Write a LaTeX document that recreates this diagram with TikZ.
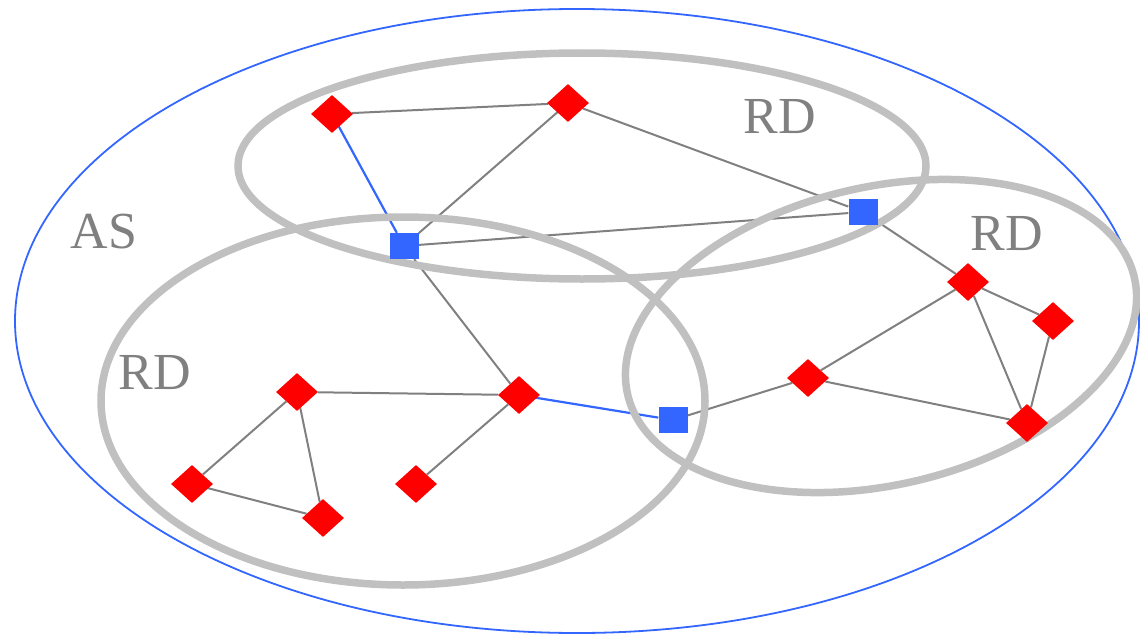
\documentclass[tikz,border=0pt]{standalone}
\usepackage{fontspec}
\setmainfont{Liberation Serif}
\usetikzlibrary{shapes.geometric,backgrounds}
\definecolor{rdgray}{HTML}{C0C0C0}
\definecolor{edgegray}{HTML}{808080}
\definecolor{asblue}{HTML}{3366FF}
\definecolor{nodered}{HTML}{FF0000}
\begin{document}
\begin{tikzpicture}[x=1pt,y=-1pt,
  router/.style={diamond, fill=nodered, draw=none, minimum width=42pt, minimum height=38pt, inner sep=0pt},
  border/.style={rectangle, fill=asblue, draw=none, minimum width=29pt, minimum height=26pt, inner sep=0pt},
  link/.style={draw=edgegray, line width=2pt},
  blink/.style={draw=asblue, line width=2.2pt},
  rd/.style={draw=rdgray, line width=7.5pt},
  asline/.style={draw=asblue, line width=1.8pt},
  lbl/.style={text=edgegray, font=\fontsize{52}{54}\selectfont, inner sep=0pt}
]
\useasboundingbox (0,0) rectangle (1140,634);

% nodes
\node[router] (n1) at (332,114) {};
\node[router] (n2) at (568,103) {};
\node[router] (n3) at (968,282) {};
\node[router] (n4) at (1053,321) {};
\node[router] (n5) at (808,378) {};
\node[router] (n6) at (1027,423) {};
\node[router] (n7) at (297,392) {};
\node[router] (n8) at (519,395) {};
\node[router] (n9) at (192,484) {};
\node[router] (n10) at (323,518) {};
\node[router] (n11) at (416,484) {};
\node[border] (b1) at (404,246) {};
\node[border] (b2) at (863,212) {};
\node[border] (b3) at (673,420) {};

% labels
\node[lbl] (las) at (104,232) {AS};
\node[lbl] (lrd1) at (780,117) {RD};
\node[lbl] (lrd2) at (1007,234) {RD};
\node[lbl] (lrd3) at (155,373) {RD};

\begin{scope}[on background layer]
  % connectors
  \draw[link] (n1) -- (n2);
  \draw[blink] (n1.center) -- (b1);
  \draw[link] (n2.center) -- (b1);
  \draw[link] (n2) -- (b2);
  \draw[link] (b1) -- (b2);
  \draw[link] (b1) -- (n8);
  \draw[link] (b2) -- (n3);
  \draw[link] (n3) -- (n4);
  \draw[link] (n3) -- (n5);
  \draw[link] (n3) -- (n6);
  \draw[link] (n4) -- (n6);
  \draw[link] (n5) -- (n6);
  \draw[link] (n5) -- (b3);
  \draw[blink] (n8.center) -- (b3);
  \draw[link] (n7) -- (n8);
  \draw[link] (n8) -- (n11);
  \draw[link] (n7) -- (n9);
  \draw[link] (n7) -- (n10);
  \draw[link] (n9.center) -- (n10);
  % domains
  \draw[asline] (577,321) ellipse [x radius=562, y radius=312];
  \draw[rd] (582,166) ellipse [x radius=344, y radius=113];
  \draw[rd] (403,401) ellipse [x radius=302, y radius=184];
  \draw[rd, rotate around={13:(881,336)}] (881,336) ellipse [x radius=260, y radius=149];
\end{scope}
\end{tikzpicture}
\end{document}
